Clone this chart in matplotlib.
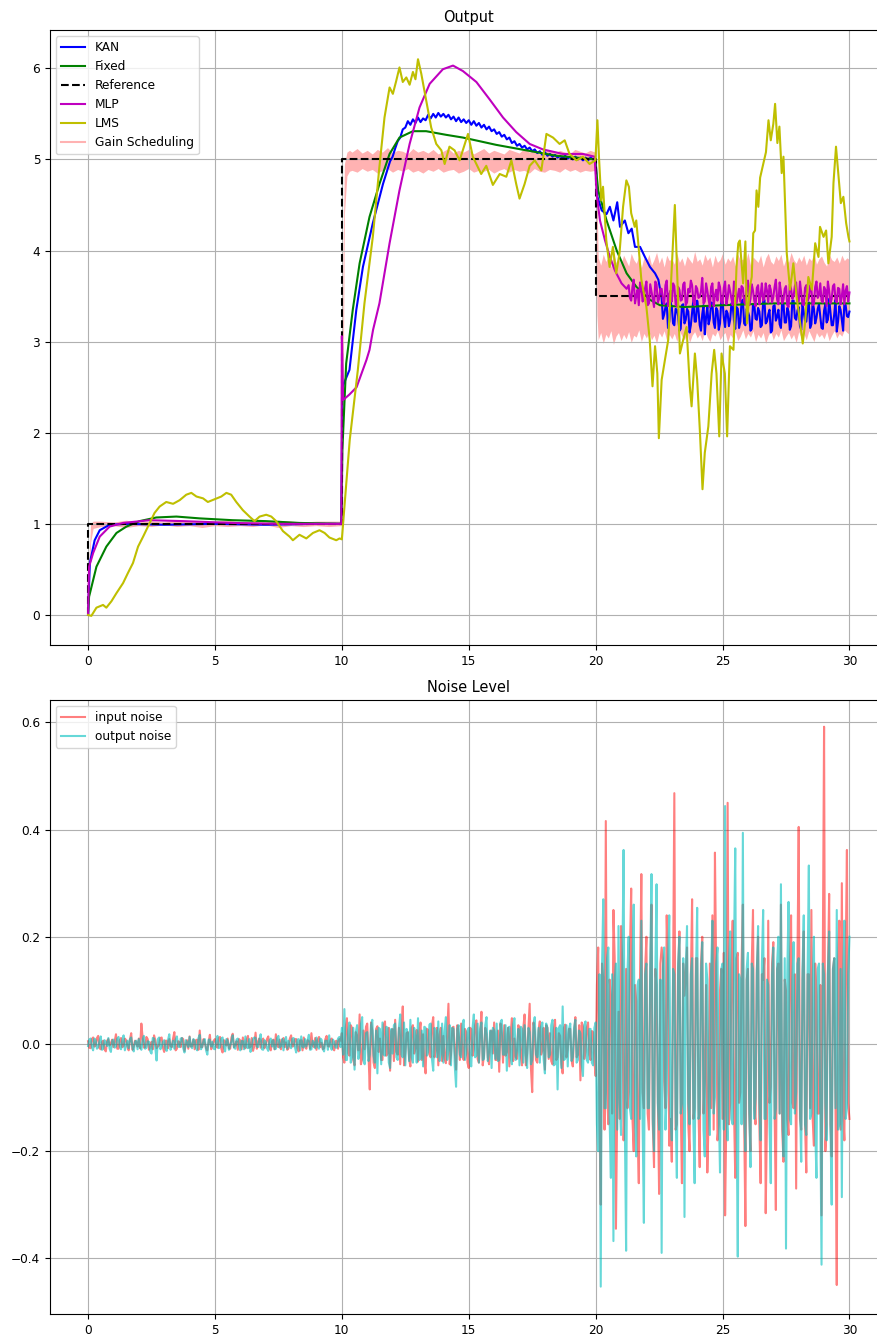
import numpy as np
import matplotlib
matplotlib.use("Agg")
import matplotlib.pyplot as plt
from matplotlib.lines import Line2D

plt.rcParams['font.size'] = 8.7

# ---------------- Output panel data ----------------
ref_t = [0, 0, 10, 10, 20, 20, 30]
ref_v = [0, 1, 1, 5, 5, 3.5, 3.5]

kan_t1 = [0, 0.07, 0.26, 0.46, 0.85, 1.5, 3, 5, 7, 9, 9.98, 10.02, 10.3, 10.57, 10.83, 11.22, 11.62, 11.9]
kan_v1 = [0, 0.57, 0.82, 0.93, 0.99, 1.0, 0.99, 1.0, 0.99, 1.0, 1.0, 2.5, 2.69, 3.35, 3.82, 4.30, 4.73, 4.98]
# 12.0 .. 19.9 every 0.1
kan_v2 = [5.03, 5.12, 5.20, 5.24, 5.33, 5.35, 5.42, 5.38, 5.44, 5.40,
          5.46, 5.41, 5.45, 5.43, 5.49, 5.45, 5.50, 5.46, 5.51, 5.47,
          5.50, 5.46, 5.49, 5.44, 5.47, 5.42, 5.46, 5.41, 5.44, 5.40,
          5.43, 5.38, 5.42, 5.37, 5.40, 5.35, 5.38, 5.33, 5.36, 5.31,
          5.33, 5.28, 5.30, 5.25, 5.27, 5.22, 5.24, 5.18, 5.20, 5.15,
          5.17, 5.13, 5.15, 5.11, 5.13, 5.09, 5.11, 5.07, 5.09, 5.05,
          5.08, 5.04, 5.06, 5.03, 5.05, 5.02, 5.04, 5.01, 5.04, 5.01,
          5.03, 5.00, 5.03, 5.00, 5.02, 4.99, 5.02, 4.99, 5.02, 5.00]
kan_t3 = [20.0, 20.07, 20.24, 20.43, 20.56, 20.7, 20.85, 20.96, 21.15, 21.29, 21.42, 21.55, 21.75, 21.94, 22.14, 22.34, 22.47]
kan_v3 = [5.0, 4.59, 4.44, 4.4, 4.48, 4.33, 4.53, 4.26, 4.33, 4.19, 4.24, 4.04, 4.04, 3.93, 3.82, 3.75, 3.68]
# 22.6 .. 30.0 every 0.1
kan_v4 = [3.48, 3.30, 3.42, 3.22, 3.38, 3.18, 3.35, 3.12, 3.40, 3.20,
          3.36, 3.10, 3.32, 3.22, 3.45, 3.18, 3.30, 3.08, 3.38, 3.25,
          3.42, 3.15, 3.34, 3.20, 3.44, 3.16, 3.31, 3.24, 3.40, 3.14,
          3.36, 3.22, 3.46, 3.18, 3.33, 3.12, 3.41, 3.25, 3.37, 3.16,
          3.44, 3.20, 3.30, 3.10, 3.39, 3.23, 3.35, 3.15, 3.42, 3.21,
          3.33, 3.17, 3.45, 3.24, 3.38, 3.13, 3.32, 3.22, 3.43, 3.19,
          3.36, 3.26, 3.41, 3.15, 3.34, 3.21, 3.47, 3.18, 3.30, 3.11,
          3.39, 3.24, 3.42, 3.28, 3.33]
# 22.65 .. 29.95 every 0.1 (in-between samples)
kan_v4h = [3.25, 3.38, 3.15, 3.44, 3.20, 3.36, 3.28, 3.14, 3.41, 3.24,
           3.33, 3.18, 3.46, 3.22, 3.35, 3.12, 3.40, 3.27, 3.19, 3.43,
           3.21, 3.37, 3.13, 3.45, 3.26, 3.34, 3.17, 3.42, 3.23, 3.38,
           3.15, 3.44, 3.20, 3.36, 3.28, 3.14, 3.41, 3.24, 3.33, 3.18,
           3.46, 3.22, 3.35, 3.12, 3.40, 3.27, 3.19, 3.43, 3.21, 3.37,
           3.13, 3.45, 3.26, 3.34, 3.17, 3.42, 3.23, 3.38, 3.15, 3.44,
           3.20, 3.36, 3.28, 3.14, 3.41, 3.24, 3.33, 3.18, 3.46, 3.22,
           3.35, 3.12, 3.40, 3.27]

fixed_t = [0, 0.04, 0.33, 0.72, 1.12, 1.51, 2.03, 2.69, 3.48, 4.4,
           5.7, 7.0, 8.33, 9.98, 10.02, 10.17, 10.43, 10.7, 11.09, 11.48,
           11.88, 12.27, 12.8, 13.32, 14.11, 14.77, 15.43, 16.08, 16.87, 17.66,
           18.45, 19.24, 19.98, 20.1, 20.43, 20.83, 21.22, 21.61, 22.14, 22.53,
           23.5, 25.0, 27.0, 30.0]
fixed_v = [0, 0.2, 0.53, 0.75, 0.9, 0.97, 1.03, 1.07, 1.08, 1.06,
           1.04, 1.03, 1.01, 1.0, 1.81, 2.76, 3.35, 3.86, 4.37, 4.73,
           5.06, 5.24, 5.31, 5.31, 5.27, 5.24, 5.2, 5.16, 5.12, 5.08,
           5.04, 5.02, 5.0, 4.66, 4.33, 4.0, 3.75, 3.6, 3.46, 3.4,
           3.38, 3.4, 3.42, 3.42]

mlp_t1 = [0, 0.04, 0.2, 0.46, 0.85, 1.38, 2.43, 3.74, 5.7, 7.5,
          9.98, 10.0, 10.05, 10.3, 10.58, 10.97, 11.09, 11.23, 11.48, 11.88,
          12.27, 12.67, 13.06, 13.46, 13.98, 14.38, 14.77, 15.3, 15.82, 16.35,
          16.87, 17.4, 17.92, 18.71, 19.5, 19.96, 20.04, 20.17, 20.37, 20.56,
          20.76, 21.02, 21.22]
mlp_v1 = [0, 0.53, 0.68, 0.86, 0.97, 1.01, 1.04, 1.03, 1.01, 1.0,
          1.0, 3.06, 2.36, 2.42, 2.5, 2.8, 2.91, 3.13, 3.42, 4.08,
          4.66, 5.17, 5.57, 5.83, 5.99, 6.03, 5.97, 5.85, 5.66, 5.46,
          5.3, 5.17, 5.11, 5.06, 5.06, 5.03, 4.62, 4.33, 4.11, 3.93,
          3.78, 3.64, 3.58]
# 21.3 .. 30.0 every 0.1
mlp_v2 = [3.62, 3.45, 3.68, 3.50, 3.40, 3.60, 3.48, 3.66, 3.42, 3.55,
          3.38, 3.63, 3.47, 3.58, 3.41, 3.67, 3.52, 3.44, 3.61, 3.39,
          3.57, 3.46, 3.65, 3.43, 3.54, 3.62, 3.40, 3.58, 3.49, 3.70,
          3.44, 3.56, 3.38, 3.64, 3.51, 3.45, 3.60, 3.42, 3.66, 3.48,
          3.55, 3.40, 3.63, 3.50, 3.44, 3.59, 3.41, 3.67, 3.47, 3.56,
          3.39, 3.62, 3.52, 3.45, 3.64, 3.43, 3.57, 3.49, 3.68, 3.41,
          3.55, 3.46, 3.61, 3.38, 3.58, 3.50, 3.65, 3.44, 3.53, 3.40,
          3.62, 3.48, 3.57, 3.42, 3.66, 3.51, 3.45, 3.60, 3.39, 3.56,
          3.47, 3.63, 3.43, 3.58, 3.50, 3.41, 3.61, 3.54]
# 21.35 .. 29.95 every 0.1 (in-between samples)
mlp_v2h = [3.48, 3.60, 3.42, 3.57, 3.65, 3.44, 3.59, 3.40, 3.63, 3.47,
           3.66, 3.43, 3.58, 3.46, 3.62, 3.39, 3.56, 3.64, 3.41, 3.60,
           3.45, 3.63, 3.40, 3.58, 3.67, 3.44, 3.61, 3.48, 3.55, 3.42,
           3.64, 3.46, 3.60, 3.39, 3.57, 3.65, 3.43, 3.59, 3.41, 3.62,
           3.47, 3.66, 3.42, 3.58, 3.61, 3.44, 3.60, 3.40, 3.63, 3.45,
           3.59, 3.41, 3.64, 3.48, 3.56, 3.62, 3.43, 3.60, 3.46, 3.65,
           3.42, 3.58, 3.40, 3.63, 3.47, 3.61, 3.44, 3.66, 3.41, 3.59,
           3.45, 3.62, 3.40, 3.60, 3.48, 3.64, 3.43, 3.57, 3.66, 3.42,
           3.61, 3.46, 3.59, 3.41, 3.63, 3.56, 3.44]

lms_t = [0, 0.13, 0.33, 0.59, 0.72, 0.92, 1.12, 1.38, 1.57, 1.77,
         1.97, 2.17, 2.43, 2.62, 2.82, 3.08, 3.35, 3.61, 3.87, 4.07,
         4.27, 4.53, 4.72, 4.99, 5.25, 5.45, 5.64, 5.84, 6.1, 6.36,
         6.56, 6.76, 7.02, 7.22, 7.41, 7.68, 7.94, 8.07, 8.33, 8.6,
         8.86, 9.12, 9.32, 9.51, 9.78, 9.91, 10.0,
         10.31, 10.63, 10.89, 11.22, 11.48, 11.68, 11.88, 12.01, 12.14, 12.27,
         12.4, 12.54, 12.67, 12.8, 12.9, 13.0, 13.13, 13.32, 13.52, 13.72,
         13.92, 14.05, 14.24, 14.44, 14.64, 14.97, 15.16, 15.49, 15.69, 15.95,
         16.22, 16.48, 16.68, 16.87, 17.0, 17.2, 17.4, 17.6, 17.86, 18.06,
         18.32, 18.58, 18.78, 18.97, 19.24, 19.5, 19.76, 19.99,
         20.07, 20.13, 20.22, 20.29, 20.42, 20.55, 20.68, 20.81, 20.94, 21.08,
         21.21, 21.31, 21.4, 21.54, 21.6, 21.67, 21.8, 22.0, 22.13, 22.24,
         22.34, 22.43, 22.49, 22.6, 22.73, 22.86, 22.99, 23.12, 23.22, 23.32,
         23.45, 23.58, 23.71, 23.78, 23.91, 24.0, 24.11, 24.21, 24.3, 24.44,
         24.57, 24.67, 24.76, 24.87, 24.96, 25.09, 25.18, 25.29, 25.43, 25.55,
         25.62, 25.68, 25.81, 25.9, 25.96, 26.08, 26.15, 26.21, 26.28, 26.34,
         26.41, 26.48, 26.61, 26.71, 26.81, 26.9, 27.0, 27.07, 27.16, 27.24,
         27.33, 27.4, 27.46, 27.53, 27.66, 27.79, 27.92, 28.06, 28.16, 28.25,
         28.38, 28.52, 28.65, 28.78, 28.84, 28.98, 29.08, 29.17, 29.3, 29.37,
         29.47, 29.57, 29.66, 29.76, 29.87, 29.96, 30.0]
lms_v = [0, -0.01, 0.08, 0.11, 0.08, 0.15, 0.24, 0.35, 0.46, 0.57,
         0.75, 0.86, 1.01, 1.12, 1.19, 1.24, 1.22, 1.26, 1.32, 1.34,
         1.3, 1.28, 1.24, 1.27, 1.3, 1.34, 1.32, 1.24, 1.15, 1.08,
         1.03, 1.08, 1.1, 1.08, 1.03, 0.92, 0.86, 0.82, 0.88, 0.84,
         0.9, 0.93, 0.9, 0.85, 0.82, 0.84, 0.83,
         1.92, 2.69, 3.42, 4.15, 4.92, 5.46, 5.79, 5.72, 5.86, 6.01,
         5.85, 5.9, 5.82, 5.96, 5.88, 6.1, 5.94, 5.65, 5.35, 5.17,
         5.1, 4.95, 5.14, 5.1, 4.99, 5.28, 5.03, 4.84, 4.93, 4.72,
         4.84, 4.81, 4.99, 4.73, 4.57, 4.73, 4.93, 4.99, 4.88, 5.28,
         5.24, 5.17, 5.21, 5.06, 4.99, 5.03, 4.95, 4.99,
         5.43, 5.03, 4.55, 4.7, 4.11, 3.82, 4.04, 3.75, 3.97, 4.48,
         4.77, 4.7, 4.41, 4.26, 4.33, 4.11, 3.68, 3.38, 3.02, 2.51,
         2.95, 2.65, 1.94, 2.58, 2.8, 3.02, 3.75, 4.5, 3.68, 2.87,
         3.02, 3.16, 2.51, 2.29, 2.87, 2.58, 2.0, 1.38, 1.78, 2.07,
         2.65, 2.91, 2.65, 1.96, 2.87, 2.65, 1.96, 2.95, 2.91, 3.82,
         4.08, 4.11, 3.64, 4.1, 3.2, 3.6, 3.71, 4.19, 4.22, 4.66,
         4.48, 4.8, 4.96, 5.08, 5.43, 5.21, 5.39, 5.61, 5.18, 5.36,
         4.85, 5.03, 4.55, 3.97, 3.57, 3.86, 3.49, 3.2, 2.98, 3.2,
         3.71, 3.57, 4.08, 3.93, 4.26, 4.15, 4.22, 3.86, 4.15, 4.74,
         5.14, 4.81, 4.52, 4.59, 4.3, 4.15, 4.1]

# Gain Scheduling band (lower / upper envelope)
gsA_t = [0, 0.05, 0.1, 0.2]
gsA_lo = [0, 0.35, 0.8, 0.95]
gsA_hi = [0.08, 0.7, 1.0, 1.03]
gsA2_lo = [0.97, 0.98, 0.96, 0.98, 0.97, 0.99, 0.97, 0.98, 0.96, 0.98,
           0.97, 0.98, 0.97, 0.99, 0.96, 0.98, 0.97, 0.98, 0.97, 0.98]
gsA2_hi = [1.03, 1.02, 1.04, 1.02, 1.03, 1.02, 1.04, 1.03, 1.02, 1.03,
           1.04, 1.02, 1.03, 1.02, 1.04, 1.03, 1.02, 1.03, 1.03, 1.03]
gsB_t = [10.0, 10.05, 10.1, 10.2, 10.3]
gsB_lo = [0.98, 2.3, 4.4, 4.82, 4.87]
gsB_hi = [1.03, 4.0, 4.95, 5.08, 5.1]
gsB2_lo = [4.88, 4.86, 4.9, 4.87, 4.89, 4.85, 4.88, 4.9, 4.86, 4.89,
           4.87, 4.9, 4.86, 4.88, 4.85, 4.89, 4.87, 4.9, 4.86, 4.88,
           4.89, 4.85, 4.87, 4.9, 4.86, 4.88, 4.87, 4.89, 4.85, 4.88,
           4.9, 4.86, 4.89, 4.87, 4.88, 4.85, 4.9, 4.87, 4.86, 4.89,
           4.88, 4.86, 4.9, 4.87, 4.89, 4.86, 4.88, 4.87, 4.88]
gsB2_hi = [5.08, 5.12, 5.07, 5.1, 5.06, 5.11, 5.08, 5.13, 5.07, 5.1,
           5.09, 5.06, 5.12, 5.08, 5.1, 5.07, 5.11, 5.06, 5.09, 5.12,
           5.07, 5.1, 5.08, 5.11, 5.06, 5.09, 5.12, 5.07, 5.1, 5.08,
           5.06, 5.11, 5.09, 5.07, 5.12, 5.08, 5.1, 5.06, 5.09, 5.11,
           5.07, 5.1, 5.08, 5.06, 5.11, 5.09, 5.07, 5.1, 5.08]
gsC_t = [20.0, 20.05]
gsC_lo = [4.9, 3.3]
gsC_hi = [5.06, 4.7]
gsC2_lo = [3.02, 3.10, 2.98, 3.08, 3.04, 3.12, 2.97, 3.06, 3.10, 3.01, 3.08, 3.03, 3.11, 2.99, 3.07, 3.05, 3.13, 3.00, 3.09, 3.04,
           3.11, 3.02, 3.07, 2.98, 3.10, 3.05, 3.12, 3.01, 3.08, 3.03, 3.09, 3.00, 3.12, 3.06, 3.02, 3.10, 2.99, 3.07, 3.11, 3.04,
           3.08, 3.01, 3.13, 3.05, 3.00, 3.09, 3.06, 3.12, 3.02, 3.07, 3.10, 2.99, 3.08, 3.04, 3.11, 3.01, 3.06, 3.13, 3.03, 3.09,
           3.05, 3.12, 3.00, 3.08, 3.04, 3.10, 2.98, 3.07, 3.11, 3.02, 3.09, 3.05, 3.13, 3.01, 3.06, 3.10, 3.03, 3.08, 2.99, 3.11,
           3.04, 3.09, 3.02, 3.12, 3.06, 3.00, 3.10, 3.05, 3.08, 3.03, 3.11, 3.01, 3.07, 3.12, 3.04, 3.09, 3.06, 3.13, 3.10, 3.08]
gsC2_hi = [3.92, 3.84, 3.96, 3.88, 3.93, 3.82, 3.98, 3.87, 3.91, 3.85, 3.95, 3.89, 3.83, 3.97, 3.90, 3.86, 3.94, 3.81, 3.92, 3.88,
           3.96, 3.84, 3.90, 3.98, 3.86, 3.93, 3.82, 3.95, 3.89, 3.91, 3.85, 3.97, 3.87, 3.92, 3.83, 3.94, 3.90, 3.86, 3.99, 3.88,
           3.91, 3.84, 3.96, 3.89, 3.93, 3.82, 3.95, 3.87, 3.90, 3.97, 3.85, 3.92, 3.88, 3.94, 3.83, 3.96, 3.89, 3.91, 3.86, 3.98,
           3.84, 3.93, 3.90, 3.87, 3.95, 3.82, 3.92, 3.97, 3.88, 3.85, 3.94, 3.89, 3.96, 3.83, 3.91, 3.87, 3.98, 3.90, 3.86, 3.93,
           3.88, 3.95, 3.84, 3.92, 3.89, 3.97, 3.85, 3.91, 3.94, 3.87, 3.83, 3.96, 3.90, 3.88, 3.93, 3.86, 3.95, 3.89, 3.92, 3.90]

# ---------------- Noise panel data (milli-units) ----------------
# samples at t = 0.0, 0.1, ..., 30.0
noise_in_milli = [
    5, -8, 12, -3, 15, -10, 6, -14, 9, 2,
    -6, 18, -9, 11, -4, 7, -12, 20, -5, 3,
    10, 38, -7, 13, -11, 4, 16, -8, -2, 12,
    -15, 6, 9, -6, 22, -9, 3, 11, -13, 7,
    14, -4, -10, 8, 25, -6, 2, -12, 17, -3,
    9, -7, 13, -16, 5, 10, -9, 19, -2, -11,
    6, 12, -8, 15, -5, -13, 21, 4, -7, 10,
    -3, 14, -12, 8, 18, -6, -10, 11, 3, -8,
    16, -4, 9, -14, 7, 12, -9, 5, 20, -6,
    -11, 13, 2, -8, 15, -5, 10, -12, 6, 9,
    20, -35, 48, -22, 30, -40, 15, 55, -28, -10,
    38, -85, 25, -45, 33, 10, -30, 42, -18, -50,
    28, 45, -20, -38, 70, -15, 22, -42, 35, -8,
    -33, 40, 18, -55, 26, -25, 50, -12, -40, 30,
    15, -36, 75, -20, 32, -48, 12, 38, -30, 22,
    -45, 28, -10, 44, -35, 60, -22, 18, -38, 25,
    40, -30, -52, 20, 35, -15, -42, 48, 10, -28,
    30, -40, 55, -18, 75, -90, 24, -35, 42, -12,
    -48, 30, 20, -38, 45, -25, 15, -55, 36, -10,
    28, -42, 50, -20, -68, 32, -15, 40, -30, 22,
    -60, 180, -300, 120, 416, -150, 90, 250, -345, 60,
    220, -180, 140, -90, 290, -200, 80, -260, 317, -120,
    200, -160, 260, -230, 110, -280, 180, -70, 240, -190,
    -220, 468, -150, 210, -260, 90, 180, -200, 270, -120,
    160, -230, 200, -60, -240, 150, 240, 357, -180, 100,
    -140, -320, 450, -110, 230, -250, 170, -90, 260, -340,
    140, -200, 250, -150, 200, -260, 120, -316, 230, -80,
    190, -310, 150, 260, -220, 100, -170, 240, -120, -270,
    405, -160, 210, -240, 130, 250, -190, 90, -130, -320,
    592, -150, 280, -210, 160, -450, 230, 300, -180, 362,
    -140]
# samples at t = 0.05, 0.15, ..., 29.95
noise_in_half_milli = [
    -7, 9, -5, 11, -8, 4, -10, 6, -3, 8,
    5, -9, 7, -6, 10, -4, 8, -11, 6, -5,
    -8, 12, -6, 9, -4, -10, 7, -5, 11, -7,
    6, -8, -4, 10, -12, 5, -6, 9, -3, -9,
    -5, 8, 7, -11, -6, 9, -8, 4, -10, 6,
    -4, 11, -9, 7, -3, -8, 12, -6, 5, 9,
    -10, -5, 8, -7, 11, -4, -9, 10, 6, -8,
    9, -7, 5, -10, -4, 8, 7, -6, -11, 10,
    -5, 9, -8, 6, -12, -4, 7, -9, -3, 11,
    8, -6, -10, 9, -4, 7, -8, 5, -9, 6,
    -25, 30, -18, 35, -30, 22, -12, -38, 25, 32,
    -20, 40, -35, 28, -15, -30, 36, -22, 30, 24,
    -32, -15, 30, 25, -40, 20, -28, 30, -18, 26,
    22, -30, -35, 28, -20, 34, -25, 30, 18, -32,
    -28, 22, -38, 30, -15, 35, -30, -20, 28, -35,
    30, -22, 35, -28, 20, -40, 30, -25, 22, -18,
    -30, 25, 38, -35, -22, 30, 20, -32, -25, 35,
    -22, 30, -40, 28, -45, 40, -30, 25, -20, 30,
    35, -28, -32, 25, -30, 20, -38, 30, -25, 28,
    -30, 22, -25, 35, 40, -28, 30, -20, 24, -32,
    110, -140, 150, -160, -90, 120, -130, 160, -110, -140,
    150, -100, -120, 170, -140, 110, -150, 130, -90, 140,
    -130, 120, -150, 140, -100, 150, 160, -120, 130, -140,
    120, -160, 140, -110, 150, 130, -150, 120, -140, 160,
    -120, 150, -130, 110, -140, -120, -160, 130, -150, 140,
    170, -130, -150, 140, -120, 160, -110, 150, -140, 120,
    -130, 150, -120, 140, -150, 130, 160, -140, -110, 150,
    -120, 140, -130, -160, 120, -140, 150, -110, 130, 150,
    -140, 120, -150, 130, -120, -140, 150, -130, 110, 160,
    -200, 130, -150, 140, -120, 150, -160, -130, 150, -110]
noise_out_milli = [
    -4, 10, -12, 7, -6, 14, -9, 3, 11, -15,
    8, -5, 13, -10, 16, -3, -8, 12, -14, 6,
    9, -11, 15, -7, 4, -18, 10, -31, 12, -5,
    7, -13, 18, -4, -9, 14, -6, 11, -16, 3,
    13, -8, 6, -12, 17, -5, 9, -20, 8, 4,
    -10, 15, -6, 12, -14, 7, -3, 16, -9, 10,
    -12, 5, 14, -8, -15, 9, 11, -6, 18, -11,
    4, -13, 10, 7, -9, 15, -4, -12, 13, 6,
    -8, 11, -16, 9, 14, -7, -5, 17, -10, 3,
    12, -9, 8, -14, 6, 16, -11, 4, -7, 13,
    30, 65, -30, 40, -25, -48, 35, -15, 50, -38,
    22, -20, 45, -35, -55, 28, 40, -22, 30, -45,
    -18, 38, -30, 55, -25, -40, 20, 45, -35, 15,
    48, -28, -42, 30, -15, 38, -50, 25, 42, -20,
    -35, 50, -12, -40, 28, -80, 35, -25, 45, -18,
    30, -42, 55, -22, -35, 40, -28, 50, -15, -45,
    25, 38, -30, 45, -20, -50, 32, -38, 48, -12,
    -40, 28, 35, -45, 22, -30, 50, -25, -35, 40,
    -55, 30, -20, 45, -38, -85, 35, 70, -28, -42,
    38, -25, 45, -30, 20, -60, 42, -35, 28, -40,
    40, -200, -453, 270, -120, 180, -250, -368, 150, 220,
    -170, 362, -386, 200, -140, 260, -210, 120, 230, -334,
    150, -120, 317, -200, 298, -160, -390, 180, -90, 240,
    -180, 130, -250, 200, -110, -323, 220, -150, 160, -260,
    254, -130, 190, -210, 120, -170, 230, -100, 180, -240,
    150, 444, -180, 210, -150, 365, -397, 120, 394, -200,
    170, -230, 140, -100, 220, -180, 250, -140, 110, -260,
    180, -120, 200, 298, -210, -382, 265, -150, 190, -90,
    160, -220, 240, -170, 333, -130, 200, -250, 150, -412,
    130, -180, 210, -300, 160, 250, -150, -286, 230, -120,
    200]
noise_out_half_milli = [
    8, -6, 10, -9, 5, -11, 7, -4, -9, 6,
    -7, 10, -5, 8, -12, 6, 9, -7, 4, -10,
    -6, 8, -9, 5, -14, 11, -7, 9, -10, 4,
    -9, 7, -11, 6, 8, -5, 10, -8, 7, -6,
    -4, 9, -7, 11, -10, 6, -12, 8, -5, -9,
    7, -8, 10, -6, 9, -11, 5, -7, 8, -4,
    6, -10, -6, 9, -7, 12, -5, 8, -10, 7,
    -8, 6, -5, -10, 11, -7, 9, 6, -9, -4,
    10, -6, 8, -12, -5, 9, 7, -11, 6, -8,
    -5, 10, -9, 6, -11, -4, 8, -7, 10, -6,
    -20, -30, 25, -35, 30, 22, -28, 36, -30, 20,
    -32, 35, -22, 25, 30, -38, -20, 32, -35, 28,
    35, -25, 30, -20, 40, 28, -32, -25, 30, -35,
    -30, 25, 32, -22, 36, -28, 30, -25, -32, 38,
    25, -30, 35, 30, -42, 28, -20, 35, -30, 25,
    -35, 30, -25, 38, 28, -30, 35, -32, 25, 30,
    -28, -32, 40, -20, 35, 30, -25, 36, -30, 28,
    32, -35, -22, 30, -38, 35, -20, 30, 32, -28,
    38, -25, 35, -40, 30, 30, -45, -30, 35, 28,
    -32, 30, -35, 25, -38, 35, -30, 28, -35, 30,
    -150, 130, 140, -120, 160, -140, 130, 120, -160, -110,
    140, -150, 130, -120, 150, -130, 110, -140, -150, 130,
    -120, 150, -140, 130, -110, 120, 140, -160, 150, -130,
    140, -120, 150, -130, 160, 140, -110, 130, -150, 120,
    -140, 130, -160, 150, -110, 140, -130, 150, -120, 140,
    -160, -130, 150, -140, 170, -120, 130, -150, -130, 140,
    -120, 150, -140, 130, -110, 150, -140, 120, -150, 130,
    -140, 150, -130, -120, 160, 130, -140, 120, -130, 150,
    -120, 140, -150, 130, -140, 120, -160, 140, -130, 150,
    -110, 130, -150, 140, -120, -160, 140, 120, -140, 130]


def merge(t_a, v_a, t_b, v_b):
    t = np.concatenate([np.asarray(t_a, float), np.asarray(t_b, float)])
    v = np.concatenate([np.asarray(v_a, float), np.asarray(v_b, float)])
    order = np.argsort(t, kind='stable')
    return t[order], v[order]


# ---------------- assemble series ----------------
kan_t4, kan_v4m = merge(np.linspace(22.6, 30.0, len(kan_v4)), kan_v4,
                        np.linspace(22.65, 29.95, len(kan_v4h)), kan_v4h)
kan_t = np.concatenate([kan_t1, np.linspace(12.0, 19.9, len(kan_v2)), kan_t3, kan_t4])
kan_v = np.concatenate([kan_v1, kan_v2, kan_v3, kan_v4m])

mlp_t2, mlp_v2m = merge(np.linspace(21.3, 30.0, len(mlp_v2)), mlp_v2,
                        np.linspace(21.35, 29.95, len(mlp_v2h)), mlp_v2h)
mlp_t = np.concatenate([mlp_t1, mlp_t2])
mlp_v = np.concatenate([mlp_v1, mlp_v2m])

gs_t = np.concatenate([gsA_t, np.linspace(0.5, 9.98, len(gsA2_lo)),
                       gsB_t, np.linspace(10.4, 19.98, len(gsB2_lo)),
                       gsC_t, np.linspace(20.1, 30.0, len(gsC2_lo))])
gs_lo = np.concatenate([gsA_lo, gsA2_lo, gsB_lo, gsB2_lo, gsC_lo, gsC2_lo])
gs_hi = np.concatenate([gsA_hi, gsA2_hi, gsB_hi, gsB2_hi, gsC_hi, gsC2_hi])

t_main = np.linspace(0, 30, len(noise_in_milli))
t_half = np.linspace(0.05, 29.95, len(noise_in_half_milli))
nin_t, nin_v = merge(t_main, noise_in_milli, t_half, noise_in_half_milli)
nout_t, nout_v = merge(t_main, noise_out_milli, t_half, noise_out_half_milli)
nin_v = nin_v / 1000.0
nout_v = nout_v / 1000.0

# ---------------- figure ----------------
fig = plt.figure(figsize=(8.77, 13.36), dpi=100)
ax1 = fig.add_axes([0.0570, 0.5172, 0.955, 0.4603])
ax2 = fig.add_axes([0.0570, 0.0165, 0.955, 0.4596])

l_kan, = ax1.plot(kan_t, kan_v, color='b', lw=1.5, label='KAN')
l_fix, = ax1.plot(fixed_t, fixed_v, color='g', lw=1.5, label='Fixed')
l_ref, = ax1.plot(ref_t, ref_v, 'k--', lw=1.5, label='Reference')
l_mlp, = ax1.plot(mlp_t, mlp_v, color='m', lw=1.5, label='MLP')
l_lms, = ax1.plot(lms_t, lms_v, color='y', lw=1.5, label='LMS')
ax1.fill_between(gs_t, gs_lo, gs_hi, color='r', alpha=0.3, lw=0)
gs_handle = Line2D([0], [0], color='r', alpha=0.3, lw=1.5)
ax1.legend([l_kan, l_fix, l_ref, l_mlp, l_lms, gs_handle],
           ['KAN', 'Fixed', 'Reference', 'MLP', 'LMS', 'Gain Scheduling'],
           loc='upper left')
ax1.set_title('Output')
ax1.grid(True)
ax1.set_xlim(-1.5, 31.5)
ax1.set_ylim(-0.33, 6.42)

ax2.plot(nin_t, nin_v, color='r', alpha=0.5, lw=1.5, label='input noise')
ax2.plot(nout_t, nout_v, color=(0.0, 0.75, 0.75), alpha=0.6, lw=1.5, label='output noise')
ax2.legend(loc='upper left')
ax2.set_title('Noise Level')
ax2.grid(True)
ax2.set_xlim(-1.5, 31.5)
ax2.set_ylim(-0.504, 0.642)

fig.savefig('out.png', dpi=100)
